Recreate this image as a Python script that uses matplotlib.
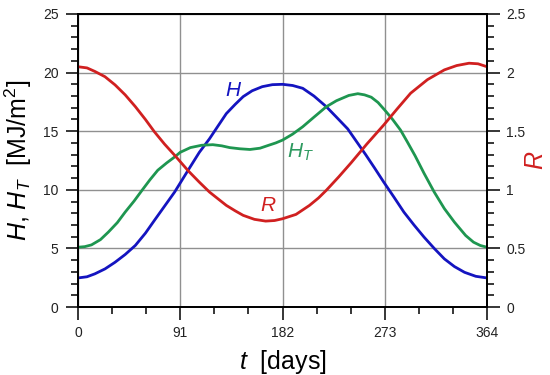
import numpy as np
import matplotlib.pyplot as plt
from matplotlib.ticker import MultipleLocator, FixedLocator

plt.rcParams['font.family'] = ['Liberation Sans', 'DejaVu Sans']
plt.rcParams['mathtext.fontset'] = 'custom'
plt.rcParams['mathtext.rm'] = 'Liberation Sans'
plt.rcParams['mathtext.it'] = 'Liberation Sans:italic'

# values
t_H = [0, 8, 15, 24, 33, 42, 51, 60, 68, 77, 86, 98, 108, 117, 125, 132, 140,
       147, 155, 164, 173, 182, 191, 200, 210, 221, 230, 240, 248, 256, 264,
       272, 281, 290, 299, 308, 317, 326, 335, 344, 354, 364]
H = [2.48, 2.58, 2.83, 3.25, 3.82, 4.48, 5.25, 6.3, 7.39, 8.6, 9.81, 11.67,
     13.2, 14.35, 15.5, 16.5, 17.3, 17.95, 18.45, 18.8, 18.97, 19.0, 18.9,
     18.66, 18.0, 17.09, 16.2, 15.2, 14.1, 13.0, 11.85, 10.67, 9.4, 8.1, 7.0,
     5.96, 5.0, 4.11, 3.45, 2.96, 2.62, 2.48]

t_HT = [0, 6, 12, 20, 27, 35, 42, 50, 57, 64, 71, 79, 86, 91, 100, 110, 120,
        128, 135, 144, 153, 162, 170, 176, 182, 191, 200, 210, 221, 230, 241,
        249, 255, 261, 267, 273, 280, 287, 293, 300, 308, 317, 326, 335, 345,
        352, 358, 364]
HT = [5.1, 5.15, 5.3, 5.75, 6.39, 7.2, 8.1, 9.05, 9.96, 10.85, 11.67, 12.3,
      12.8, 13.2, 13.6, 13.8, 13.85, 13.75, 13.6, 13.5, 13.44, 13.55, 13.81,
      14.0, 14.24, 14.75, 15.38, 16.2, 17.09, 17.6, 18.05, 18.2, 18.1, 17.9,
      17.45, 16.8, 16.0, 15.1, 14.1, 12.9, 11.4, 9.81, 8.4, 7.24, 6.1, 5.53,
      5.25, 5.1]

t_R = [0, 8, 15, 24, 33, 42, 51, 60, 68, 77, 86, 98, 108, 117, 125, 132, 140,
       147, 157, 167, 175, 182, 194, 206, 214, 221, 232, 243, 257, 272, 284,
       296, 311, 326, 337, 348, 356, 364]
R = [2.05, 2.04, 2.01, 1.965, 1.895, 1.81, 1.71, 1.6, 1.495, 1.39, 1.295,
     1.163, 1.065, 0.981, 0.92, 0.867, 0.82, 0.782, 0.748, 0.733, 0.738, 0.753,
     0.79, 0.867, 0.93, 0.996, 1.11, 1.23, 1.39, 1.552, 1.69, 1.824, 1.94,
     2.023, 2.06, 2.08, 2.075, 2.05]

x_ticks = [0, 91, 182, 273, 364]
r_ticks = [0, 0.5, 1, 1.5, 2, 2.5]
r_labels = ['0', '0.5', '1', '1.5', '2', '2.5']

c_blue = '#1414c0'
c_green = '#1e9650'
c_red = '#d02020'

fig = plt.figure(figsize=(5.5, 3.75), dpi=100)
ax = fig.add_axes([0.1418, 0.1813, 0.7437, 0.7814])
ax2 = ax.twinx()

ax.plot(t_H, H, color=c_blue, lw=2, solid_joinstyle='round')
ax.plot(t_HT, HT, color=c_green, lw=2, solid_joinstyle='round')
ax2.plot(t_R, R, color=c_red, lw=2, solid_joinstyle='round')

ax.set_xlim(0, 364)
ax.set_ylim(0, 25)
ax2.set_ylim(0, 2.5)

ax.xaxis.set_major_locator(FixedLocator(x_ticks))
ax.xaxis.set_minor_locator(MultipleLocator(91 / 3))
ax.yaxis.set_major_locator(MultipleLocator(5))
ax.yaxis.set_minor_locator(MultipleLocator(1))
ax2.set_yticks(r_ticks, r_labels)
ax2.yaxis.set_minor_locator(MultipleLocator(0.1))

ax.grid(True, which='major', color='#909090', lw=1)
ax.set_axisbelow(True)

for a in (ax, ax2):
    a.tick_params(which='major', direction='out', length=9, width=1.1,
                  labelsize=10, colors='black', labelcolor='#222222', pad=5)
    a.tick_params(which='minor', direction='out', length=5, width=1.1)
    for s in a.spines.values():
        s.set_linewidth(1.3)

ax.set_ylabel(r'$H$, $H_T$  [MJ/m$^2$]', fontsize=18)
ax.yaxis.set_label_coords(-0.108, 0.5)
ax.set_xlabel(r'$t$  [days]', fontsize=18)
ax.xaxis.set_label_coords(0.5, -0.14)
ax2.set_ylabel(r'$R$', fontsize=18, color=c_red, rotation=90)
ax2.yaxis.set_label_coords(1.09, 0.5)

ax.text(138, 18.5, r'$H$', color=c_blue, fontsize=15, ha='center', va='center')
ax.text(198, 13.2, r'$H_T$', color='#2e9a60', fontsize=15, ha='center', va='center')
ax.text(169, 8.7, r'$R$', color=c_red, fontsize=15, ha='center', va='center')

fig.savefig('out.png', dpi=100)
